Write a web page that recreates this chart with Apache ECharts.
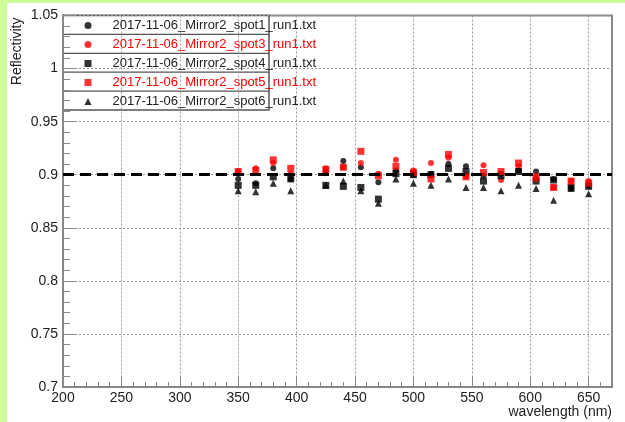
<!DOCTYPE html>
<html>
<head>
<meta charset="utf-8">
<script src="https://cdn.jsdelivr.net/npm/echarts@6/dist/echarts.min.js"></script>
<style>
html,body{margin:0;padding:0;background:#ccff99;width:625px;height:422px;overflow:hidden;}
#paper{position:absolute;left:7px;top:3px;width:618px;height:419px;background:#fff;}
#chart{position:absolute;left:0;top:0;width:625px;height:422px;}
</style>
</head>
<body>
<div id="paper"></div>
<div id="chart"></div>
<script>
// ---- data ----
const wavelengths = [350,365,380,395,425,440,455,470,485,500,515,530,545,560,575,590,605,620,635,650];
const spot1 = [0.896,0.892,0.906,0.896,0.903,0.913,0.907,0.893,0.904,0.900,0.901,0.910,0.908,0.899,0.901,0.904,0.903,0.896,0.888,0.890];
const spot3 = [0.903,0.906,0.911,0.901,0.906,0.907,0.911,0.901,0.914,0.904,0.911,0.916,0.899,0.909,0.895,0.908,0.899,0.888,0.894,0.894];
const spot4 = [0.890,0.890,0.898,0.896,0.890,0.889,0.888,0.877,0.901,0.900,0.900,0.906,0.903,0.894,0.899,0.903,0.894,0.895,0.888,0.889];
const spot5 = [0.903,0.904,0.914,0.906,0.905,0.907,0.922,0.899,0.908,0.902,0.896,0.919,0.898,0.902,0.903,0.911,0.897,0.888,0.894,0.892];
const spot6 = [0.885,0.884,0.892,0.885,0.890,0.894,0.885,0.873,0.896,0.892,0.890,0.896,0.888,0.888,0.885,0.890,0.887,0.876,0.887,0.882];
const seriesNames = ['2017-11-06_Mirror2_spot1_run1.txt','2017-11-06_Mirror2_spot3_run1.txt','2017-11-06_Mirror2_spot4_run1.txt','2017-11-06_Mirror2_spot5_run1.txt','2017-11-06_Mirror2_spot6_run1.txt'];
const xTickLabels = [200,250,300,350,400,450,500,550,600,650];
const referenceLevel = 0.9;

// minor tick positions
const xMinor = [];
for (let v = 210; v <= 670; v += 10) if (v % 50 !== 0) xMinor.push(v);
const yMinor = [];
for (let k = 71; k <= 105; k++) if (k % 5 !== 0) yMinor.push(k / 100);

const FONT = 'Liberation Sans, Arial, Helvetica, sans-serif';
const pts = arr => wavelengths.map((w, i) => [w, arr[i]]);

const chart = echarts.init(document.getElementById('chart'), null, {renderer: 'canvas'});
const gridStyle = {show: true, lineStyle: {color: '#9a9a9a', width: 1, type: [2, 2]}};
const axisCol = '#888';

const defs = [
  {data: spot1, symbol: 'circle', size: 6, color: '#000'},
  {data: spot3, symbol: 'circle', size: 6, color: '#ff0000'},
  {data: spot4, symbol: 'rect', size: 7, color: '#000'},
  {data: spot5, symbol: 'rect', size: 7, color: '#ff0000'},
  {data: spot6, symbol: 'triangle', size: 7, color: '#000'}
];

const series = defs.map((d, i) => ({
  name: seriesNames[i],
  type: 'scatter',
  xAxisIndex: 0, yAxisIndex: 0,
  symbol: d.symbol,
  symbolSize: d.size,
  itemStyle: {color: d.color},
  data: pts(d.data),
  z: 3
}));
series[0].markLine = {
  silent: true,
  symbol: ['none', 'none'],
  label: {show: false},
  lineStyle: {color: '#000', width: 3, type: [11, 6]},
  data: [{yAxis: referenceLevel}],
  z: 5
};

chart.setOption({
  animation: false,
  backgroundColor: 'transparent',
  textStyle: {fontFamily: FONT},
  grid: {left: 63, top: 15.5, right: 13, bottom: 35, show: true, borderColor: axisCol, borderWidth: 2, backgroundColor: 'transparent'},
  xAxis: [
    {
      type: 'value', min: 200, max: 670, interval: 50,
      name: 'wavelength (nm)', nameLocation: 'end', nameGap: 0,
      nameTextStyle: {fontFamily: FONT, fontSize: 14, color: '#222', align: 'right', verticalAlign: 'top', padding: [18, 0, 0, 0]},
      axisLine: {show: true, lineStyle: {color: axisCol, width: 2}},
      axisTick: {show: true, inside: true, length: 11, lineStyle: {color: axisCol}, customValues: xTickLabels},
      axisLabel: {fontFamily: FONT, fontSize: 14, color: '#222', margin: 4, customValues: xTickLabels},
      splitLine: gridStyle
    },
    {
      type: 'value', min: 200, max: 670, position: 'bottom',
      axisLine: {show: false},
      axisTick: {show: true, inside: true, length: 5, lineStyle: {color: axisCol}, customValues: xMinor},
      axisLabel: {show: false},
      splitLine: {show: false}
    }
  ],
  yAxis: [
    {
      type: 'value', min: 0.7, max: 1.05, interval: 0.05,
      name: 'Reflectivity', nameLocation: 'end', nameRotate: 90, nameGap: -2,
      nameTextStyle: {fontFamily: FONT, fontSize: 14, color: '#222', align: 'right', verticalAlign: 'bottom', padding: [0, 0, 39, 0]},
      axisLine: {show: true, lineStyle: {color: axisCol, width: 2}},
      axisTick: {show: true, inside: true, length: 14, lineStyle: {color: axisCol}},
      axisLabel: {fontFamily: FONT, fontSize: 14, color: '#222', margin: 5},
      splitLine: gridStyle
    },
    {
      type: 'value', min: 0.7, max: 1.05, position: 'left',
      axisLine: {show: false},
      axisTick: {show: true, inside: true, length: 7, lineStyle: {color: axisCol}, customValues: yMinor},
      axisLabel: {show: false},
      splitLine: {show: false}
    }
  ],
  legend: {
    orient: 'vertical',
    left: 84.5, top: 19,
    padding: 0,
    itemWidth: 7, itemHeight: 7,
    itemGap: 6,
    z: 10,
    selectedMode: false,
    textStyle: {fontFamily: FONT, fontSize: 13, color: '#222', padding: [0, 0, 0, 16]},
    data: seriesNames.map((n, i) => ({name: n, textStyle: {color: defs[i].color === '#000' ? '#222' : '#ff0000'}}))
  },
  graphic: [
    {
      type: 'group', z: 8,
      children: [
        {type: 'rect', shape: {x: 63, y: 15.5, width: 206, height: 94.5}, style: {fill: '#fff', stroke: '#555', lineWidth: 1.5}},
        {type: 'line', shape: {x1: 63, y1: 34.4, x2: 269, y2: 34.4}, style: {stroke: '#555', lineWidth: 1.2}},
        {type: 'line', shape: {x1: 63, y1: 53.3, x2: 269, y2: 53.3}, style: {stroke: '#555', lineWidth: 1.2}},
        {type: 'line', shape: {x1: 63, y1: 72.2, x2: 269, y2: 72.2}, style: {stroke: '#555', lineWidth: 1.2}},
        {type: 'line', shape: {x1: 63, y1: 91.1, x2: 269, y2: 91.1}, style: {stroke: '#555', lineWidth: 1.2}}
      ]
    }
  ],
  series: series
});
</script>
</body>
</html>
